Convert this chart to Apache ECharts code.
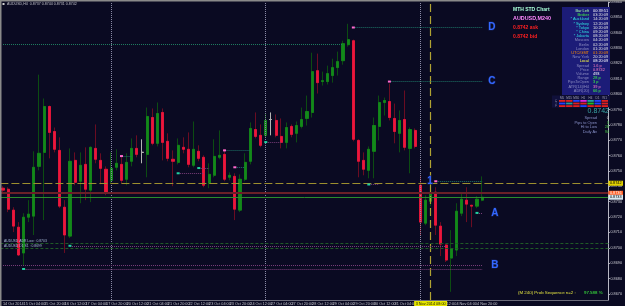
<!DOCTYPE html>
<html>
<head>
<meta charset="utf-8">
<title>AUDUSD H4</title>
<script src="https://cdn.jsdelivr.net/npm/echarts@6/dist/echarts.min.js"></script>
<style>
  html,body{margin:0;padding:0;background:#0a0a22;}
  #main{width:625px;height:306px;}
</style>
</head>
<body>
<div id="main"></div>
<script>
// H4 bars, 14 Oct 2014 12:00 -> 5 Nov 2014 00:00
let days=['14 Oct','15 Oct','16 Oct','17 Oct','20 Oct','21 Oct','22 Oct','23 Oct','24 Oct','27 Oct','28 Oct','29 Oct','30 Oct','31 Oct','3 Nov','4 Nov','5 Nov','6 Nov','7 Nov','10 Nov','11 Nov']
let hours=['00:00','04:00','08:00','12:00','16:00','20:00']
let opens=[0.87388,0.87381,0.87245,0.87134,0.86966,0.87199,0.87206,0.87530,0.87621,0.87920,
0.87757,0.87634,0.87264,0.87076,0.87569,0.87433,0.87543,0.87375,0.87647,0.87569,
0.87511,0.87439,0.87524,0.87543,0.87446,0.87563,0.87647,0.87621,0.87608,0.87848,
0.87680,0.87881,0.87693,0.87576,0.87556,0.87654,0.87641,0.87537,0.87628,0.87589,
0.87420,0.87472,0.87589,0.87608,0.87459,0.87465,0.87245,0.87446,0.87563,0.87770,
0.87732,0.87732,0.87835,0.87829,0.87725,0.87686,0.87790,0.87745,0.87790,0.87842,
0.87881,0.88153,0.88082,0.88082,0.88121,0.88173,0.88218,0.88322,0.88348,0.87699,
0.87569,0.87504,0.87628,0.87790,0.87946,0.87952,0.87842,0.87745,0.87835,0.87647,
0.87764,0.87407,0.87160,0.87303,0.87362,0.87141,0.87018,0.86933,0.86985,0.87225,
0.87310,0.87277,0.87271,0.87310]
let closes=[0.87375,0.87251,0.87141,0.86953,0.87199,0.87219,0.87524,0.87615,0.87920,0.87751,
0.87641,0.87271,0.87083,0.87563,0.87426,0.87537,0.87381,0.87654,0.87576,0.87517,
0.87355,0.87517,0.87550,0.87439,0.87556,0.87647,0.87608,0.87621,0.87855,0.87680,
0.87874,0.87686,0.87582,0.87563,0.87667,0.87641,0.87543,0.87641,0.87582,0.87407,
0.87478,0.87595,0.87602,0.87446,0.87472,0.87251,0.87446,0.87556,0.87777,0.87725,
0.87667,0.87829,0.87835,0.87732,0.87686,0.87783,0.87738,0.87796,0.87835,0.87887,
0.88147,0.88075,0.88088,0.88134,0.88173,0.88212,0.88329,0.88355,0.87706,0.87563,
0.87511,0.87641,0.87796,0.87946,0.87959,0.87848,0.87757,0.87829,0.87654,0.87770,
0.87660,0.87167,0.87310,0.87355,0.87147,0.87024,0.86920,0.86992,0.87238,0.87316,
0.87284,0.87271,0.87316,0.87329]
let lows=[0.87355,0.87232,0.87102,0.86946,0.86888,0.87167,0.87083,0.87504,0.87180,0.87582,
0.87621,0.87258,0.86966,0.87063,0.87407,0.87290,0.87310,0.87297,0.87550,0.87414,
0.87342,0.87420,0.87504,0.87420,0.87407,0.87530,0.87589,0.87550,0.87459,0.87667,
0.87660,0.87569,0.87563,0.87401,0.87543,0.87615,0.87524,0.87524,0.87563,0.87394,
0.87388,0.87459,0.87576,0.87433,0.87439,0.87180,0.87232,0.87433,0.87543,0.87712,
0.87654,0.87719,0.87732,0.87719,0.87647,0.87647,0.87719,0.87686,0.87777,0.87796,
0.87848,0.88004,0.88056,0.88063,0.88075,0.88121,0.88192,0.88309,0.87693,0.87459,
0.87472,0.87452,0.87452,0.87699,0.87861,0.87829,0.87680,0.87621,0.87634,0.87485,
0.87647,0.87083,0.87147,0.87271,0.87083,0.86946,0.86907,0.86713,0.86946,0.87206,
0.87167,0.87134,0.87258,0.87303]
let highs=[0.87401,0.87394,0.87264,0.87167,0.87225,0.87310,0.87628,0.88127,0.87972,0.87926,
0.87783,0.87719,0.87310,0.87647,0.87621,0.87621,0.87654,0.87660,0.87803,0.87615,
0.87530,0.87621,0.87641,0.87602,0.87615,0.87712,0.87732,0.87706,0.87913,0.87907,
0.87946,0.87907,0.87745,0.87634,0.87712,0.87719,0.87751,0.87822,0.87667,0.87602,
0.87550,0.87706,0.87764,0.87641,0.87491,0.87485,0.87478,0.87615,0.87816,0.87881,
0.87803,0.87874,0.87881,0.87868,0.87842,0.87816,0.87803,0.87822,0.87913,0.87991,
0.88270,0.88264,0.88147,0.88186,0.88231,0.88277,0.88348,0.88458,0.88355,0.87706,
0.87621,0.87660,0.87848,0.87991,0.87978,0.88069,0.87939,0.87894,0.88024,0.87783,
0.87777,0.87465,0.87342,0.87394,0.87394,0.87167,0.87024,0.87115,0.87290,0.87355,
0.87394,0.87277,0.87336,0.87465]
let priceTicks=[0.8670,0.8680,0.8690,0.8700,0.8710,0.8720,0.8730,0.8740,0.8750,0.8760,
0.8770,0.8780,0.8790,0.8800,0.8810,0.8820,0.8830,0.8840,0.8850,0.8860]

// info panel texts
let panelNames=['Bar Left','Broker','* Auckland','* Sydney','* Tokyo','* China','* Jakarta','Moscow','Berlin','London','UTC/GMT','New York','Local','Spread','Price','Volume','Range','PipsToOpen','ATR(14)/H4','ADR(20)']
let panelValues=['00:39:51','03:20:09','14:20:09','12:20:09','10:20:09','09:20:09','08:20:09','04:20:09','02:20:09','01:20:09','01:20:09','20:20:09','08:20:09','1.6 p','0.8742','493','28 p','3 p','39 p','66 p']
let panelNameColors=['#a8ffa8','#40ff40','#30e0e0','#30e0e0','#30e0e0','#30e0e0','#30e0e0','#8c8cc0','#8c8cc0','#8c8cc0','#ff8c00','#8c8cc0','#ffff40','#8c8cc0','#8c8cc0','#8c8cc0','#8c8cc0','#8c8cc0','#8c8cc0','#8c8cc0']
let panelValueColors=['#ffffff','#e0e0e0','#e0e0e0','#e0e0e0','#e0e0e0','#e0e0e0','#e0e0e0','#e0e0e0','#e0e0e0','#e0e0e0','#ff8c00','#e0e0e0','#ffffff','#ff80c0','#ff80c0','#ffffff','#40ff40','#40ff40','#ff80c0','#40ff40']
let statNames=['Spread','Pips to Open','Hi to Low','Daily Av']
let statValues=['0','3','28','94']

let times=[]
days.forEach(d=>hours.forEach(h=>times.push(d+' '+h)))
times=times.slice(3,3+118)
let nBars=opens.length

let wickData=opens.map((o,i)=>[o,closes[i],lows[i],highs[i]])
let bodyData=opens.map((o,i)=>[o,closes[i],Math.min(o,closes[i]),Math.max(o,closes[i])])

const FONT='"Liberation Sans", Arial, sans-serif'
const LETTER={show:true,color:'#3468ff',fontSize:10,fontWeight:'bold',fontFamily:FONT,textBorderColor:'#14205a',textBorderWidth:1,distance:6}

function hline(v,color,type,width){
  return {yAxis:v,lineStyle:{color:color,type:type,width:width||1}}
}
function seg(i1,i2,v,color,label){
  let a={coord:[times[i1],v],lineStyle:{color:color,type:[1,1],width:1}}
  if(label) a.label=label
  return [a,{coord:[times[i2],v]}]
}
function axisBox(txt,bg,fg){
  return {show:true,position:'end',formatter:txt,backgroundColor:bg,color:fg,fontSize:3.8,fontFamily:FONT,padding:[0.5,1.5],distance:0}
}
const TEAL='#1d7466', PURP='#7a3e7a', PINK='#ff6ad0', MINT='#22d0a0'

let lines=[
  // period separators (Mondays)
  {xAxis:times[21],lineStyle:{color:'#8a8aa6',type:[1,1],width:1}},
  {xAxis:times[51],lineStyle:{color:'#8a8aa6',type:[1,1],width:1}},
  {xAxis:times[81],lineStyle:{color:'#8a8aa6',type:[1,1],width:1}},
  {xAxis:times[83],lineStyle:{color:'#b0a232',type:[8,4],width:1.2},
    label:{show:true,position:'start',formatter:'3 Nov 2014 08:00',backgroundColor:'#e6e600',color:'#202000',fontSize:3.8,fontFamily:FONT,padding:[0.5,1.5],distance:1}},
  // full width levels
  Object.assign(hline(0.87420,'#9c8f2e',[8,3]),{label:axisBox('0.8742','#e0d000','#000')}),
  Object.assign(hline(0.87355,'#6a2028','solid',2),{label:axisBox('0.8736','#ff5a1e','#fff')}),
  Object.assign(hline(0.87329,'#2c8c2c','solid',1),{label:axisBox('0.8733','#d8e8f0','#000')}),
  hline(0.87029,'#1f5a26',[3,2]),
  hline(0.86996,'#1f5a26',[3,2]),
  // zigzag levels
  seg(0,66,0.88322,'#1f7f60'),
  seg(68,93,0.88434,TEAL,Object.assign({},LETTER,{position:'end',formatter:'D'})),
  seg(75,93,0.88082,TEAL,Object.assign({},LETTER,{position:'end',formatter:'C'})),
  seg(84,93,0.87433,TEAL,Object.assign({},LETTER,{position:'start',formatter:'1',distance:3})),
  seg(92,93,0.87227,PURP,Object.assign({},LETTER,{position:'end',formatter:'A',distance:9})),
  seg(0,93,0.86888,PURP,Object.assign({},LETTER,{position:'end',formatter:'B',distance:9})),
  seg(4,93,0.86862,PURP),
  seg(13,86,0.87013,PURP),
  seg(23,25,0.87597,TEAL),
  seg(43,48,0.87634,TEAL),
  seg(45,47,0.87524,TEAL),
  seg(34,39,0.87485,PURP),
  seg(38,40,0.87519,PURP),
  seg(51,54,0.87688,PURP),
  seg(71,73,0.87412,PURP)
]
let marks=[[68,0.88434,PINK],[75,0.88082,PINK],[84,0.87433,PINK],[92,0.87227,MINT],[4,0.86862,MINT],
  [13,0.87013,MINT],[23,0.87597,PINK],[43,0.87634,PINK],[45,0.87524,PINK],[34,0.87485,MINT],
  [38,0.87519,MINT],[51,0.87688,MINT],[71,0.87412,MINT]].map(m=>({coord:[times[m[0]],m[1]],itemStyle:{color:m[2]}}))

// graphic overlay: frame, header, info panel
let g=[
  {type:'rect',shape:{x:0,y:0,width:625,height:1.5},style:{fill:'#8a8a8a'}},
  {type:'rect',shape:{x:0,y:0,width:1.5,height:306},style:{fill:'#8a8a8a'}},
  {type:'rect',shape:{x:2.5,y:3,width:2,height:2},style:{fill:'#d0d0d0'}},
  {type:'text',x:7,y:4.2,style:{text:'AUDUSD,H4  0.8737 0.8744 0.8731 0.8742',fill:'#c0c0c8',font:'3.6px '+FONT,verticalAlign:'middle'}},
  {type:'text',x:4,y:241.5,style:{text:'AUDUSD ADR Low : 0.8703',fill:'#a8b8d8',font:'3.4px '+FONT,verticalAlign:'middle'}},
  {type:'text',x:4,y:246.2,style:{text:'AUDUSD D1 S1 : 0.8699',fill:'#a8b8d8',font:'3.4px '+FONT,verticalAlign:'middle'}},
  {type:'text',x:513,y:10,style:{text:'MTH STD Chart',fill:'#a8ffd8',font:'bold 5px '+FONT,verticalAlign:'middle'}},
  {type:'text',x:513,y:19,style:{text:'AUDUSD,M240',fill:'#ff88ff',font:'bold 5.4px '+FONT,verticalAlign:'middle'}},
  {type:'text',x:513,y:28,style:{text:'0.8742 ask',fill:'#ff2020',font:'bold 5px '+FONT,verticalAlign:'middle'}},
  {type:'text',x:513,y:37,style:{text:'0.8742 bid',fill:'#ff2020',font:'bold 5px '+FONT,verticalAlign:'middle'}},
  {type:'rect',shape:{x:562,y:7,width:48,height:88},style:{fill:'#1c1c78'}},
  {type:'text',x:609,y:111,style:{text:'0.8742',fill:'#3aa6a6',font:'7px '+FONT,align:'right',verticalAlign:'middle'}},
  {type:'text',x:518,y:293,style:{text:'(M 240) Prob Sequence n=2 :',fill:'#e0e040',font:'4.4px '+FONT,verticalAlign:'middle'}},
  {type:'text',x:584,y:293,style:{text:'97.588 %',fill:'#40ff40',font:'4.4px '+FONT,verticalAlign:'middle'}}
]
panelNames.forEach((t,k)=>{
  let y=11+k*4.2
  g.push({type:'text',x:589,y:y,style:{text:t,fill:panelNameColors[k],font:'3.9px '+FONT,align:'right',verticalAlign:'middle'}})
  g.push({type:'text',x:593,y:y,style:{text:panelValues[k],fill:panelValueColors[k],font:'3.9px '+FONT,verticalAlign:'middle'}})
})
statNames.forEach((t,k)=>{
  let y=118+k*4.5
  g.push({type:'text',x:597,y:y,style:{text:t,fill:'#8890c8',font:'3.9px '+FONT,align:'right',verticalAlign:'middle'}})
  g.push({type:'text',x:609,y:y,style:{text:statValues[k],fill:k?'#40c040':'#c0c0c0',font:'3.9px '+FONT,align:'right',verticalAlign:'middle'}})
})
// small trend table under the panel
let tfNames=['M5','M15','M30','H1','H4','D1','W1']
let tfRows=[['#e02020','#e02020','#2040ff','#e020e0','#20a0a0','#2040ff','#e02020'],
            ['#2040ff','#20a0a0','#e02020','#e02020','#20c020','#2040ff','#e02020'],
            ['#e02020','#e02020','#e02020','#2040ff','#e02020','#e02020','#e02020']]
g.push({type:'rect',shape:{x:552,y:95.5,width:58,height:12},style:{fill:'#10103a'}})
tfNames.forEach((t,c)=>{
  g.push({type:'text',x:562+c*7.1,y:97.8,style:{text:t,fill:'#a0a0b0',font:'3px '+FONT,align:'center',verticalAlign:'middle'}})
  tfRows.forEach((row,r)=>g.push({type:'rect',shape:{x:559+c*7.1,y:100+r*2.6,width:6.4,height:1.8},style:{fill:row[c]}}))
})
;['C','T','F'].forEach((t,r)=>g.push({type:'text',x:556,y:101+r*2.6,style:{text:t,fill:'#9090b0',font:'2.6px '+FONT,align:'center',verticalAlign:'middle'}}))
g.forEach(e=>{e.z=100;e.silent=true})

var myChart=echarts.init(document.getElementById('main'))
option={
  backgroundColor:'#0a0a22',
  animation:false,
  grid:{left:-0.6,right:11.5,top:1.3,bottom:6},
  xAxis:{
    type:'category',data:times,boundaryGap:true,
    axisLine:{lineStyle:{color:'#6c6c7a'}},
    axisTick:{show:false},
    splitLine:{show:false},
    axisLabel:{interval:3,align:'left',fontSize:3.8,fontFamily:FONT,color:'#c0c0c8',margin:2,
      formatter:(v,i)=>i>=nBars?'':(i==0?'14 Oct 2014':v)}
  },
  yAxis:{
    type:'value',position:'right',min:0.8666,max:0.8860,scale:true,
    splitLine:{show:false},
    axisLine:{show:true,lineStyle:{color:'#b8b8c4'}},
    axisTick:{show:true,length:1.5,customValues:priceTicks,lineStyle:{color:'#b8b8c4'}},
    axisLabel:{customValues:priceTicks,formatter:v=>v.toFixed(4),fontSize:3.8,fontFamily:FONT,color:'#c8c8d0',margin:2}
  },
  series:[
    {
      name:'wick',type:'candlestick',data:wickData,barWidth:2.6,z:2,
      itemStyle:{color:'#0c4c12',color0:'#6a0c22',borderColor:'#0c4c12',borderColor0:'#6a0c22',borderColorDoji:'#b4b4b4',borderWidth:1},
      markLine:{symbol:['none','none'],silent:true,precision:5,label:{show:false},data:lines},
      markPoint:{symbol:'rect',symbolSize:[3,2],silent:true,label:{show:false},data:marks}
    },
    {
      name:'body',type:'candlestick',data:bodyData,barWidth:2.6,z:3,
      itemStyle:{color:'#13891a',color0:'#ec163c',borderColor:'#13891a',borderColor0:'#ec163c',borderColorDoji:'#b4b4b4',borderWidth:0.8}
    }
  ],
  graphic:g
}
myChart.setOption(option)
</script>
</body>
</html>
